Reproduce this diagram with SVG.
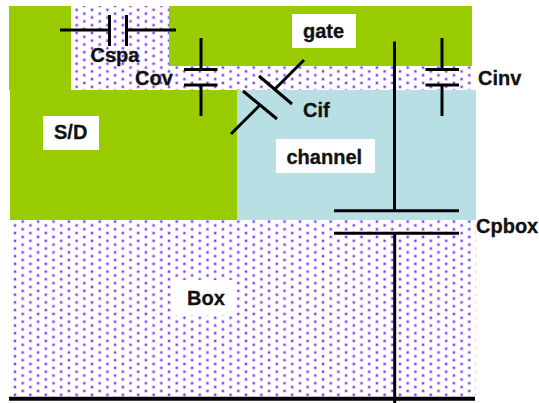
<svg xmlns="http://www.w3.org/2000/svg" width="539" height="403" viewBox="0 0 539 403">
<style>
.g{fill:#99cc00}.c{fill:#b8dfe3}.d{fill:url(#dots)}
.w{fill:#fff}
.l{stroke:#000;stroke-width:3;fill:none}
text{font-family:"Liberation Sans",Arial,sans-serif;font-weight:700;font-size:20px;fill:#111;stroke:#111;stroke-width:.3px}
</style>
<defs>
<g id="dot"><circle r="2" fill="#cdb0ff" opacity=".65"/><circle r="1.100" fill="#7f2ff2"/></g>
<pattern id="dots" patternUnits="userSpaceOnUse" x="7.300" y="6" width="15.400" height="7.700">
<use href="#dot" x="0" y="0"/><use href="#dot" x="15.400" y="0"/><use href="#dot" x="0" y="7.700"/><use href="#dot" x="15.400" y="7.700"/><use href="#dot" x="7.700" y="3.850"/>
</pattern>
</defs>
<rect width="539" height="403" fill="#fff"/>
<g id="oxide"><path class="d" d="M71 6H169V66H472V90H71ZM10 220H476V398H10Z"/></g>
<g id="gate-region"><path class="g" d="M9 6H71V90H9ZM169 6H472V66H169Z"/></g>
<g id="sd-region"><rect class="g" x="10" y="90" width="227" height="130"/></g>
<g id="channel-region"><rect class="c" x="237" y="90" width="239" height="130"/></g>
<g id="connectors">
<path class="l" d="M60 30H109.500M126.500 30H176M109.500 15V46M126.500 15V46"/>
<path class="l" d="M201 38V69.500M184 69.500H217.500M184 85H217.500M201 85V116"/>
<path class="l" d="M442 38V69.500M425.500 69.500H459M425.500 85H459M442 85V116"/>
<path class="l" d="M304 60L275 89M259 76L292 104M243 91L277 119M231 134L260 105"/>
<path class="l" d="M394.500 41.500V210.700M334 210.700H459M334 233.300H459M394.700 233.300V403"/>
<path d="M9 398.700H475" stroke="#000" stroke-width="4"/>
</g>
<g id="label-cspa"><text x="90.500" y="62">Cspa</text></g>
<g id="label-cov"><text x="135" y="85">Cov</text></g>
<g id="label-gate"><rect class="w" x="292" y="14" width="64" height="34"/><text x="303" y="37.500">gate</text></g>
<g id="label-sd"><rect class="w" x="43" y="116" width="56" height="34"/><text x="54" y="139">S/D</text></g>
<g id="label-cif"><text x="303" y="117">Cif</text></g>
<g id="label-cinv"><text x="478" y="84.500">Cinv</text></g>
<g id="label-channel"><rect class="w" x="276" y="139" width="99" height="34"/><text x="286.500" y="163.500">channel</text></g>
<g id="label-cpbox"><text x="476" y="233">Cpbox</text></g>
<g id="label-box"><rect class="w" x="175" y="280" width="61" height="35"/><text x="187" y="305">Box</text></g>
</svg>
